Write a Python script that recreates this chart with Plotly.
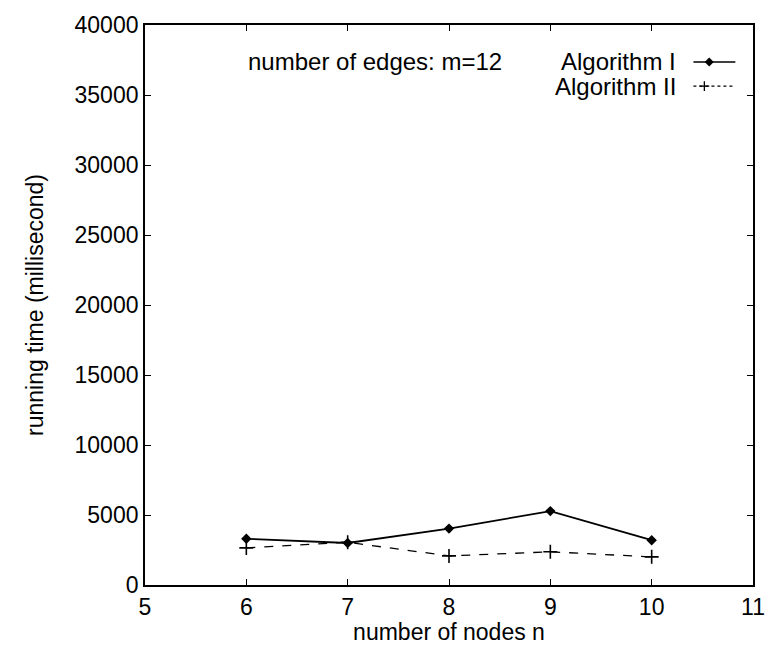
import plotly.graph_objects as go

nodes = [6, 7, 8, 9, 10]
alg1 = [3300, 3000, 4030, 5280, 3200]
alg2 = [2650, 3050, 2080, 2370, 2010]
x_ticks = [5, 6, 7, 8, 9, 10, 11]
y_ticks = [0, 5000, 10000, 15000, 20000, 25000, 30000, 35000, 40000]

FONT = "Liberation Sans, Arial, Helvetica, sans-serif"

fig = go.Figure()
fig.add_trace(go.Scatter(x=nodes, y=alg1, mode="lines+markers", name="Algorithm I",
                         line=dict(color="black", width=1.8),
                         marker=dict(symbol="diamond", size=8, color="black")))
fig.add_trace(go.Scatter(x=nodes, y=alg2, mode="lines+markers", name="Algorithm II",
                         line=dict(color="black", width=1.3, dash="dash"),
                         marker=dict(symbol="cross-thin", size=10, color="black",
                                     line=dict(color="black", width=1.6))))

# legend samples on an overlay axis in [0,1] coordinates
fig.add_trace(go.Scatter(x=[0.902, 0.971], y=[0.934, 0.934], mode="lines", xaxis="x2", yaxis="y2",
                         line=dict(color="black", width=1.5), showlegend=False, hoverinfo="skip"))
fig.add_trace(go.Scatter(x=[0.928], y=[0.934], mode="markers", xaxis="x2", yaxis="y2",
                         marker=dict(symbol="diamond", size=7, color="black"), showlegend=False, hoverinfo="skip"))
fig.add_trace(go.Scatter(x=[0.902, 0.971], y=[0.891, 0.891], mode="lines", xaxis="x2", yaxis="y2",
                         line=dict(color="black", width=1.2, dash="dot"), showlegend=False, hoverinfo="skip"))
fig.add_trace(go.Scatter(x=[0.920], y=[0.891], mode="markers", xaxis="x2", yaxis="y2",
                         marker=dict(symbol="cross-thin", size=7, color="black",
                                     line=dict(color="black", width=1.3)), showlegend=False, hoverinfo="skip"))

axis_common = dict(showgrid=False, zeroline=False, ticks="inside", ticklen=6, tickwidth=1.3,
                   tickcolor="black", showline=True, linecolor="black", linewidth=1.8,
                   mirror="ticks", tickfont=dict(family=FONT, size=23, color="black"))

fig.update_layout(
    width=777, height=654,
    margin=dict(l=145, r=12, t=25, b=69),
    paper_bgcolor="white", plot_bgcolor="white",
    showlegend=False,
    font=dict(family=FONT, color="black"),
    xaxis=dict(range=[5, 11], tickvals=x_ticks, ticktext=[str(v) for v in x_ticks],
               title=dict(text="number of nodes n", font=dict(family=FONT, size=23), standoff=0),
               **axis_common),
    yaxis=dict(range=[0, 40000], tickvals=y_ticks, ticktext=[str(v) for v in y_ticks],
               title=dict(text="running time (millisecond)", font=dict(family=FONT, size=23), standoff=24),
               **axis_common),
    xaxis2=dict(range=[0, 1], overlaying="x", visible=False, anchor="y2"),
    yaxis2=dict(range=[0, 1], overlaying="y", visible=False, anchor="x2"),
    annotations=[
        dict(text="number of edges: m=12", x=0.166, y=0.934, xref="paper", yref="paper",
             showarrow=False, xanchor="left", yanchor="middle",
             font=dict(family=FONT, size=24, color="black")),
        dict(text="Algorithm I", x=0.876, y=0.934, xref="paper", yref="paper",
             showarrow=False, xanchor="right", yanchor="middle",
             font=dict(family=FONT, size=24, color="black")),
        dict(text="Algorithm II", x=0.876, y=0.891, xref="paper", yref="paper",
             showarrow=False, xanchor="right", yanchor="middle",
             font=dict(family=FONT, size=24, color="black")),
    ],
)

fig.write_html("out.html")
